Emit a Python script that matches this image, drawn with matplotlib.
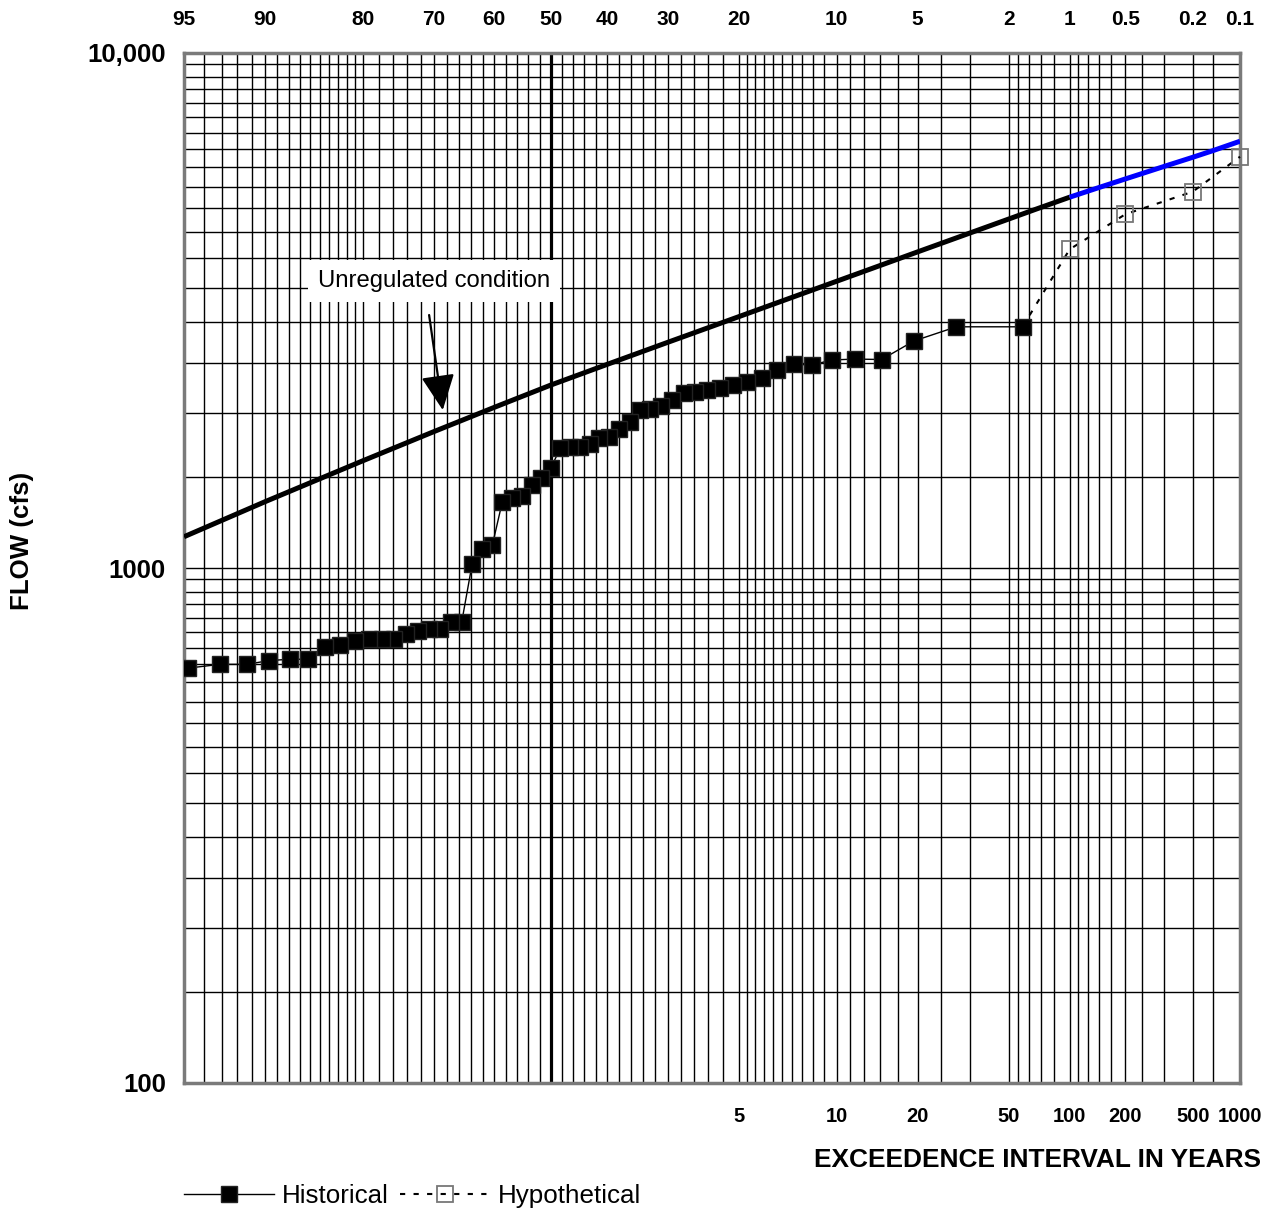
import numpy as np
import matplotlib
matplotlib.use('Agg')
import matplotlib.pyplot as plt
from matplotlib.ticker import FixedLocator, NullFormatter, FixedFormatter
from statistics import NormalDist

plt.rcParams['font.family'] = ['Liberation Sans', 'DejaVu Sans']

# ---------------- data ----------------
hist_exceed_pct = [1.72, 3.45, 5.17, 6.90, 8.62, 10.34, 12.07, 13.79, 15.52, 17.24,
                   18.97, 20.69, 22.41, 24.14, 25.86, 27.59, 29.31, 31.03, 32.76, 34.48,
                   36.21, 37.93, 39.66, 41.38, 43.10, 44.83, 46.55, 48.28, 50.00, 51.72,
                   53.45, 55.17, 56.90, 58.62, 60.34, 62.07, 63.79, 65.52, 67.24, 68.97,
                   70.69, 72.41, 74.14, 75.86, 77.59, 79.31, 81.03, 82.76, 84.48, 86.21,
                   87.93, 89.66, 91.38, 93.10, 94.83, 96.55, 98.28]
hist_flow = [2940, 2940, 2760, 2540, 2545, 2535, 2480, 2485, 2425, 2340,
             2300, 2265, 2235, 2215, 2200, 2185, 2120, 2060, 2040, 2025,
             1925, 1865, 1800, 1785, 1740, 1718, 1718, 1710, 1564, 1496,
             1449, 1380, 1368, 1343, 1108, 1089, 1018, 786, 786, 760,
             760, 755, 744, 727, 727, 727, 722, 709, 703, 665,
             665, 661, 650, 650, 639, 625, 600]

hypo_exceed_pct = [1.72, 1.0, 0.5, 0.2, 0.1]
hypo_flow = [2940, 4157, 4862, 5379, 6289]

unreg_exceed_pct = [95, 90, 85, 80, 70, 60, 50, 40, 30, 20, 15, 10, 7, 5, 3, 2, 1.5, 1]
unreg_flow = [1150, 1345, 1490, 1616, 1840, 2051, 2266, 2486, 2743, 3075, 3299,
              3604, 3866, 4110, 4474, 4761, 4965, 5248]
unreg_ext_pct = [1, 0.7, 0.5, 0.3, 0.2, 0.15, 0.1]
unreg_ext_flow = [5248, 5479, 5694, 6018, 6273, 6460, 6740]

top_ticks = [95, 90, 80, 70, 60, 50, 40, 30, 20, 10, 5, 2, 1, 0.5, 0.2, 0.1]
top_labels = ['95', '90', '80', '70', '60', '50', '40', '30', '20', '10', '5', '2', '1', '0.5', '0.2', '0.1']
bottom_ticks = [20, 10, 5, 2, 1, 0.5, 0.2, 0.1]
bottom_labels = ['5', '10', '20', '50', '100', '200', '500', '1000']
grid_pct = ([94, 93, 92, 91, 90, 89, 88, 87, 86, 85, 84, 83, 82, 81, 80,
             78, 76, 74, 72, 70, 68, 66, 64, 62, 60, 58, 56, 54, 52, 50,
             48, 46, 44, 42, 40, 38, 36, 34, 32, 30, 28, 26, 24, 22, 20,
             19, 18, 17, 16, 15, 14, 13, 12, 11, 10, 9, 8, 7, 6, 5, 4, 3, 2,
             1.8, 1.6, 1.4, 1.2, 1.0, 0.9, 0.8, 0.7, 0.6, 0.5, 0.4, 0.3, 0.2, 0.15])
y_major = [100, 1000, 10000]
y_labels = ['100', '1000', '10,000']
y_minor = ([150, 200, 250, 300, 350, 400, 450, 500, 550, 600, 650, 700, 750, 800, 850, 900, 950,
            1500, 2000, 2500, 3000, 3500, 4000, 4500, 5000, 5500, 6000, 6500, 7000, 7500,
            8000, 8500, 9000, 9500])

# ---------------- probability scale ----------------
_nd = NormalDist()


def _ppf(q):
    try:
        return _nd.inv_cdf(q)
    except Exception:
        return np.nan


_vppf = np.vectorize(_ppf, otypes=[float])
_vcdf = np.vectorize(_nd.cdf, otypes=[float])


def fwd(p):
    p = np.clip(np.asarray(p, dtype=float), 1e-6, 100 - 1e-6)
    return _vppf(p / 100.0)


def inv(z):
    return _vcdf(np.asarray(z, dtype=float)) * 100.0


fig = plt.figure(figsize=(12.78, 12.13), dpi=100)
ax = fig.add_axes([184 / 1278, 1 - 1083 / 1213, (1240 - 184) / 1278, (1083 - 53) / 1213])
ax.set_xscale('function', functions=(fwd, inv))
ax.set_yscale('log')
ax.set_xlim(95, 0.1)
ax.set_ylim(100, 10000)

ax.xaxis.set_major_locator(FixedLocator(bottom_ticks))
ax.xaxis.set_major_formatter(FixedFormatter(bottom_labels))
ax.xaxis.set_minor_locator(FixedLocator(grid_pct))
ax.xaxis.set_minor_formatter(NullFormatter())
ax.yaxis.set_major_locator(FixedLocator(y_major))
ax.yaxis.set_major_formatter(FixedFormatter(y_labels))
ax.yaxis.set_minor_locator(FixedLocator(y_minor))
ax.yaxis.set_minor_formatter(NullFormatter())
ax.grid(which='both', color='black', linewidth=1.0)
ax.tick_params(which='both', length=0)
ax.tick_params(axis='x', which='major', pad=17, labelsize=14.5)
ax.tick_params(axis='y', which='major', pad=13, labelsize=18.5)
for lab in ax.get_xticklabels() + ax.get_yticklabels():
    lab.set_fontweight('bold')
ax.axvline(50, color='black', linewidth=2.3)
for s in ax.spines.values():
    s.set_color('#7a7a7a')
    s.set_linewidth(2.5)

# top axis (exceedance probability in percent)
ax2 = ax.twiny()
ax2.set_xscale('function', functions=(fwd, inv))
ax2.set_xlim(95, 0.1)
ax2.xaxis.set_major_locator(FixedLocator(top_ticks))
ax2.xaxis.set_major_formatter(FixedFormatter(top_labels))
ax2.xaxis.set_minor_locator(FixedLocator([]))
ax2.tick_params(which='both', length=0, pad=17, labelsize=15)
for lab in ax2.get_xticklabels():
    lab.set_fontweight('bold')
for s in ax2.spines.values():
    s.set_visible(False)

# curves
ax.plot(unreg_exceed_pct, unreg_flow, color='black', linewidth=3.6, solid_capstyle='butt',
        solid_joinstyle='round', zorder=4)
ax.plot(unreg_ext_pct, unreg_ext_flow, color='#0000ff', linewidth=3.6, solid_capstyle='butt',
        solid_joinstyle='round', zorder=4)

h_hypo, = ax.plot(hypo_exceed_pct, hypo_flow, color='black', linewidth=1.5, linestyle=(0, (2.5, 4)),
                  marker='s', markersize=11.5, markerfacecolor='none', markeredgecolor='#777777',
                  markeredgewidth=1.3, markevery=[1, 2, 3, 4], zorder=5, label='Hypothetical',
                  clip_on=False)
h_hist, = ax.plot(hist_exceed_pct, hist_flow, color='black', linewidth=1.0, marker='s',
                  markersize=12, markerfacecolor='black', markeredgecolor='#222222',
                  zorder=6, label='Historical')

# annotation
ax.text(70.0, 3608, 'Unregulated condition', ha='center', va='center', fontsize=17.2,
        bbox=dict(facecolor='white', edgecolor='none', pad=7), zorder=7)
ax.annotate('', xy=(68.6, 2026), xytext=(70.74, 3099),
            arrowprops=dict(arrowstyle='-|>,head_length=1.1,head_width=0.52', color='black',
                            linewidth=1.6, mutation_scale=20, shrinkA=0, shrinkB=0), zorder=7)

# labels
fig.text(21.7 / 1278, 1 - 541 / 1213, 'FLOW (cfs)', rotation=90, ha='center', va='center',
         fontsize=18.6, fontweight='bold')
fig.text(1261 / 1278, 1 - 1160 / 1213, 'EXCEEDENCE INTERVAL IN YEARS', ha='right', va='center',
         fontsize=18.9, fontweight='bold')

leg = fig.legend(handles=[h_hist, h_hypo], loc='center left', bbox_to_anchor=(161 / 1278, 1 - 1196 / 1213),
                 ncol=2, frameon=False, fontsize=18.7, handlelength=3.45, handletextpad=0.3,
                 columnspacing=0.45, numpoints=1)

fig.savefig('out.png', dpi=100)
